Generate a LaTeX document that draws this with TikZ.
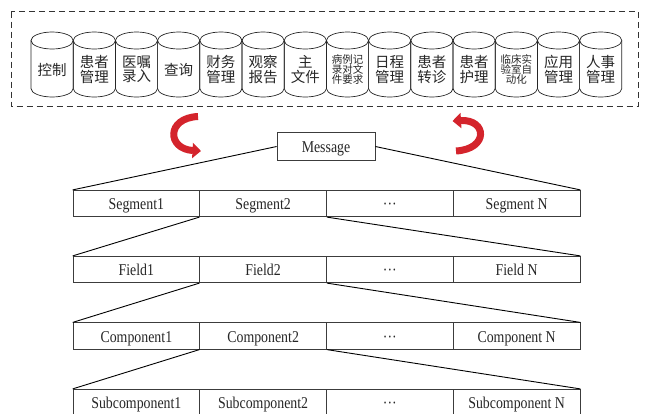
\documentclass[tikz,border=0pt]{standalone}
\usepackage{fontspec}
\setmainfont{Liberation Serif}
\newfontfamily\cjk{Noto Sans CJK SC}
\newfontfamily\cellfont[FakeStretch=0.84]{Liberation Serif}
\usetikzlibrary{arrows.meta}
\definecolor{arrowred}{RGB}{212,36,44}
\definecolor{linegray}{RGB}{60,60,60}

\begin{document}
\begin{tikzpicture}[x=1pt,y=-1pt,
  cellfontsize/.style={font=\cellfont\fontsize{16.5}{16.5}\selectfont,
    text height=12.5pt, text depth=0pt, text=black!85},
  cell/.style={draw=linegray, line width=0.7pt, minimum width=126.75pt,
    minimum height=26.5pt, inner sep=0pt, cellfontsize},
  link/.style={draw=black, line width=0.9pt},
  dbbig/.style={font=\cjk\fontsize{14.5}{14.5}\selectfont, align=center,
    inner sep=0pt, text=black!85},
  dbsmall/.style={font=\cjk\fontsize{10.5}{10.2}\selectfont, align=center,
    inner sep=0pt, text=black!85},
  dbline/.style={line width=0.7pt, draw=black!85},
  turnarrow/.style={arrowred, line width=7pt, -{Triangle[length=8.5pt,width=15pt]}}
]
\useasboundingbox (0,0) rectangle (647,413);

% module container
\draw[dash pattern=on 6pt off 4pt, line width=0.9pt, black!80]
  (11,11.5) rectangle (638.5,106);

% database cylinders with module names
\foreach \i/\t/\s in {0/控制/dbbig, 1/患者\\管理/dbbig, 2/医嘱\\录入/dbbig,
  3/查询/dbbig, 4/财务\\管理/dbbig, 5/观察\\报告/dbbig, 6/主\\文件/dbbig,
  7/病例记\\录对文\\件要求/dbsmall, 8/日程\\管理/dbbig, 9/患者\\转诊/dbbig,
  10/患者\\护理/dbbig, 11/临床实\\验室自\\动化/dbsmall, 12/应用\\管理/dbbig,
  13/人事\\管理/dbbig} {
  \pgfmathsetmacro\cx{31+42.2*(\i+0.5)}
  \draw[dbline] (\cx-21.1,40.5) -- (\cx-21.1,88.5)
    arc[start angle=180, end angle=0, x radius=21.1, y radius=8.5]
    -- (\cx+21.1,40.5);
  \draw[dbline] (\cx,40.5) ellipse [x radius=21.1, y radius=8.5];
  \node[\s] (db\i) at (\cx,69.5) {\t};
}

% message node
\node[draw=linegray, line width=0.7pt, minimum width=98pt, minimum height=27.5pt,
  inner sep=0pt, cellfontsize] (msg) at (326,146.5) {Message};

% message structure rows
\foreach \r/\y/\a/\b/\n in {s/203.5/Segment1/Segment2/Segment N,
  f/269.5/Field1/Field2/Field N,
  c/336/Component1/Component2/Component N,
  u/402.5/Subcomponent1/Subcomponent2/Subcomponent N} {
  \node[cell] (\r1) at (136.375,\y) {\a};
  \node[cell] (\r2) at (263.125,\y) {\b};
  \node[cell] (\r3) at (389.875,\y) {···};
  \node[cell] (\r4) at (516.625,\y) {\n};
}

% expansion lines
\draw[link] (msg.west) -- (s1.north west);
\draw[link] (msg.east) -- (s4.north east);
\draw[link] (s2.south west) -- (f1.north west);
\draw[link] (s2.south east) -- (f4.north east);
\draw[link] (f2.south west) -- (c1.north west);
\draw[link] (f2.south east) -- (c4.north east);
\draw[link] (c2.south west) -- (u1.north west);
\draw[link] (c2.south east) -- (u4.north east);

% exchange arrows
\coordinate (la) at (198,116.5);
\coordinate (lb) at (201,151);
\coordinate (ra) at (456,151);
\coordinate (rb) at (452.5,121);
\draw[turnarrow] (la) .. controls (166,118) and (167,149) .. (lb);
\draw[turnarrow] (ra) .. controls (489,149) and (487,119) .. (rb);
\end{tikzpicture}
\end{document}
